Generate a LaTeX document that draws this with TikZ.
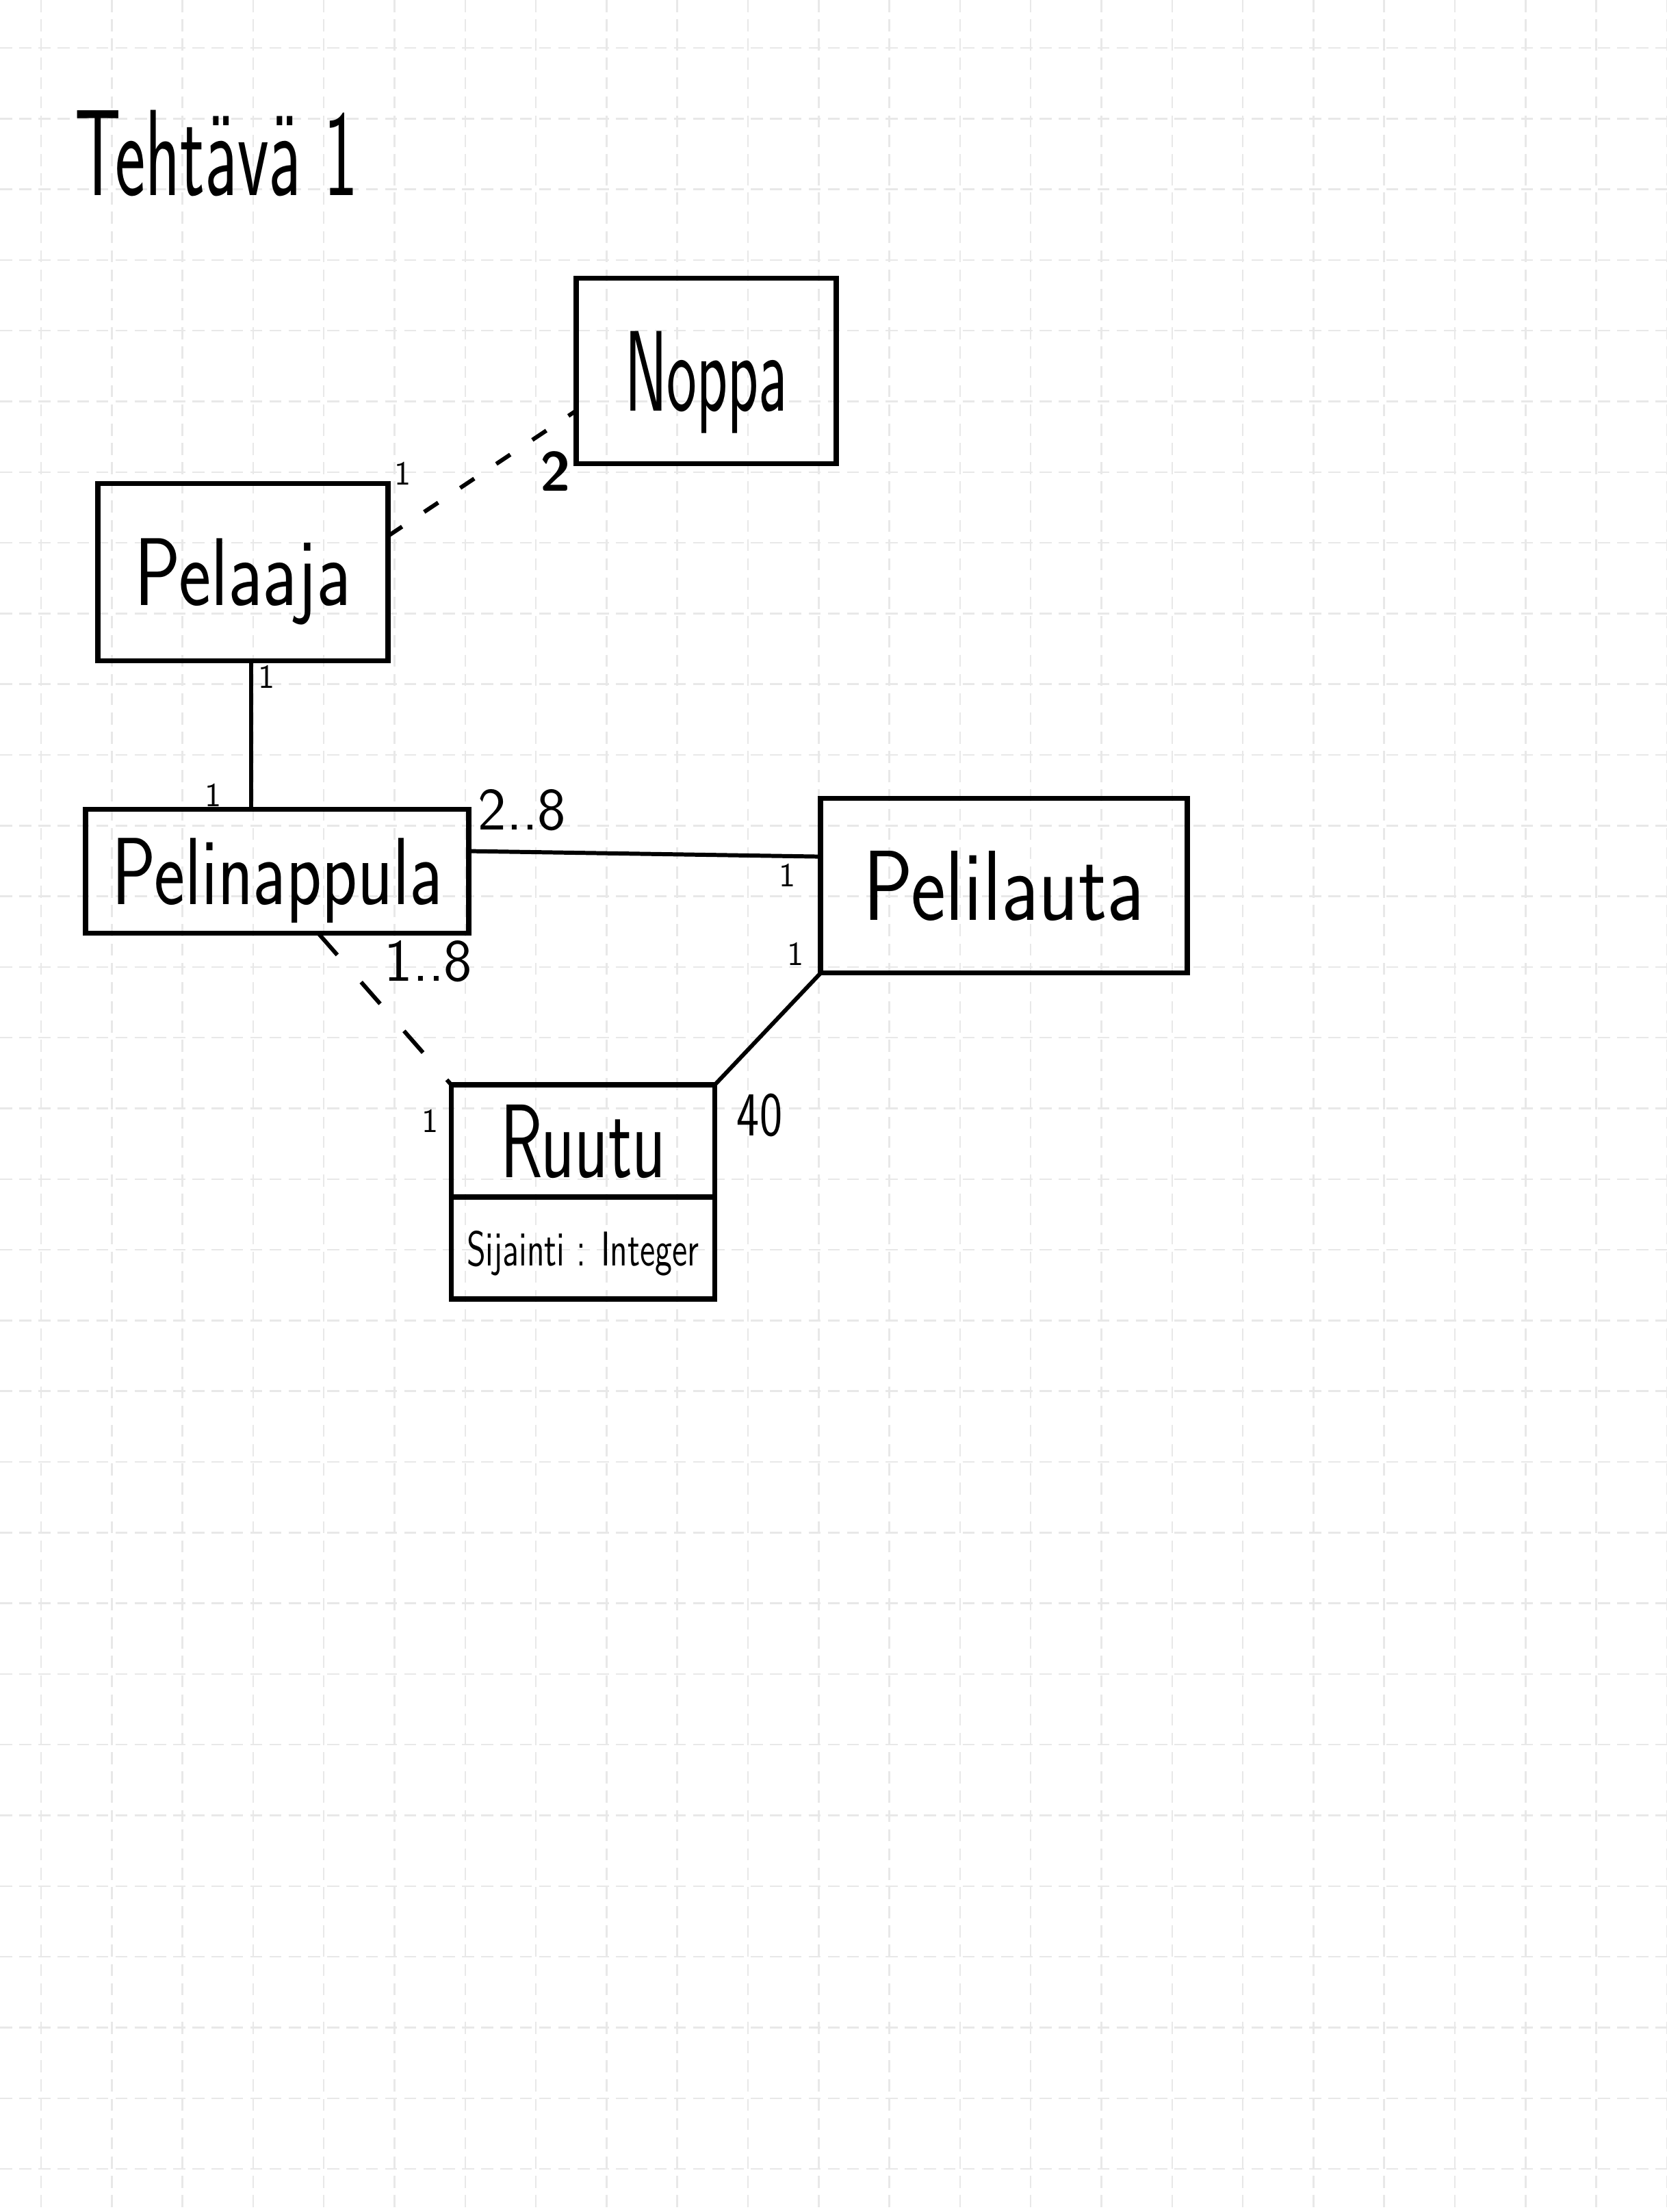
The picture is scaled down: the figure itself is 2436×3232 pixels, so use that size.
\documentclass[tikz,border=0pt]{standalone}
\usepackage{graphicx}
\usetikzlibrary{positioning}
\newcommand{\tall}[2]{\scalebox{1}[#1]{#2}}
\newcommand{\hw}[1]{\sffamily\fontsize{#1}{#1}\selectfont}

\begin{document}
\begin{tikzpicture}[x=0.01cm, y=-0.01cm,
  classbox/.style={draw, line width=2.2pt, outer sep=0pt, inner sep=0pt, text depth=0pt},
  assoc/.style={line width=1.7pt, line cap=round},
  dep/.style={line width=1.7pt, dash pattern=on 12pt off 15pt},
  mult/.style={anchor=base, inner sep=0pt, font=\hw{14}},
  gridline/.style={black!9, line width=0.7pt, dash pattern=on 5pt off 3pt}]
  % Paper
  \fill[white] (0,0) rectangle (2436,3232);
  \useasboundingbox (0,0) rectangle (2436,3232);
  \foreach \gx in {0,...,23}
    \draw[gridline] (60+103.3*\gx,0) -- (60+103.3*\gx,3232);
  \foreach \gy in {0,...,30}
    \draw[gridline] (0,70+103.3*\gy) -- (2436,70+103.3*\gy);
  % Title
  \node[font=\hw{30}, anchor=base, inner sep=0pt] (title) at (316,285) {\tall{1.7}{Tehtävä 1}};
  % Classes
  \node[classbox, minimum width=3.8cm, minimum height=2.71cm, font=\hw{26.5}] (noppa) at (1032,542) {\tall{1.8}{Noppa}};
  \node[classbox, minimum width=4.24cm, minimum height=2.59cm, font=\hw{32}] (pelaaja) at (355,836) {\tall{1.25}{Pelaaja}};
  \node[classbox, minimum width=5.6cm, minimum height=1.81cm, font=\hw{30.5}] (pelinappula) at (405,1273) {\tall{1.3}{Pelinappula}};
  \node[classbox, minimum width=5.35cm, minimum height=2.55cm, font=\hw{34.5}] (pelilauta) at (1467,1294) {\tall{1.2}{Pelilauta}};
  \node[classbox, minimum width=3.85cm, minimum height=1.64cm, font=\hw{29}] (ruutu) at (852,1667) {\tall{1.5}{Ruutu}};
  \node[classbox, minimum width=3.85cm, minimum height=1.49cm, font=\hw{14.5}, below=0pt of ruutu] (sijainti) {\tall{1.4}{Sijainti : Integer}};
  % Associations
  \draw[dep, dash pattern=on 7pt off 11pt] (pelaaja.14) -- (noppa.197);
  \draw[assoc] ([xshift=1.2mm]pelaaja.south) -- ([xshift=1.2mm]pelaaja.south |- pelinappula.north);
  \draw[assoc] (pelinappula.6) -- (pelilauta.171);
  \draw[assoc] (pelilauta.south west) -- (ruutu.north east);
  \draw[dep] ([xshift=6mm]pelinappula.south) -- (ruutu.north west);
  % Multiplicities
  \node[mult] (m-pelaaja-noppa) at (589,708) {1};
  \node[mult, font=\hw{23}\bfseries] (m-noppa) at (812,717) {2};
  \node[mult] (m-pelaaja-nappula) at (390,1005) {1};
  \node[mult] (m-nappula-pelaaja) at (312,1178) {1};
  \node[mult, font=\hw{25}] (m-nappula-lauta) at (763,1212) {2..8};
  \node[mult] (m-lauta-nappula) at (1151,1295) {1};
  \node[mult] (m-lauta-ruutu) at (1163,1410) {1};
  \node[mult, font=\hw{25}] (m-nappula-ruutu) at (626,1433) {1..8};
  \node[mult] (m-ruutu-nappula) at (629,1654) {1};
  \node[mult, font=\hw{20}] (m-ruutu-lauta) at (1110,1659) {\tall{1.3}{40}};
\end{tikzpicture}
\end{document}
